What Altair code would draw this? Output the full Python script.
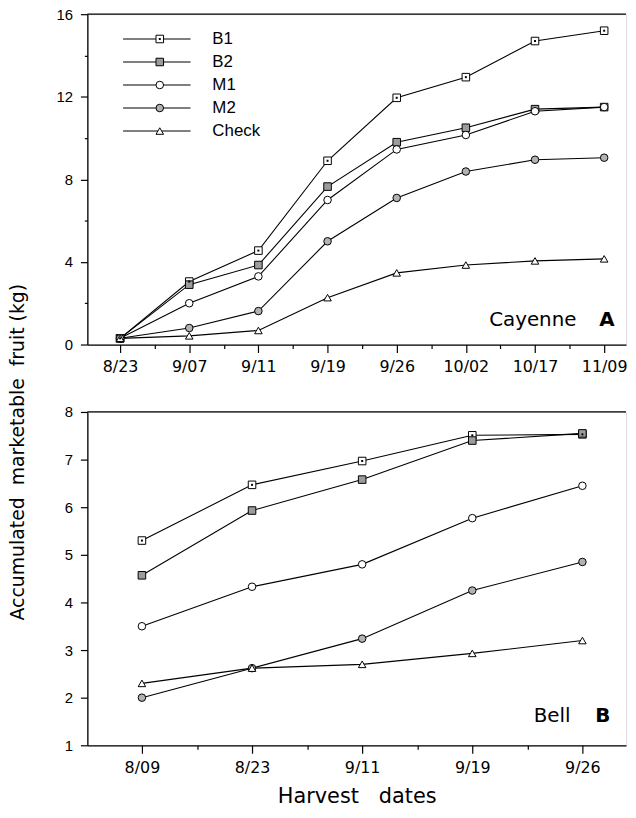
import json
import altair as alt
import pandas as pd

# ---------------- data ----------------
series = ["B1", "B2", "M1", "M2", "Check"]

dates_a = ["8/23", "9/07", "9/11", "9/19", "9/26", "10/02", "10/17", "11/09"]
b1_a = [0.3, 3.05, 4.55, 8.9, 11.95, 12.95, 14.7, 15.2]
b2_a = [0.3, 2.9, 3.85, 7.65, 9.8, 10.5, 11.4, 11.5]
m1_a = [0.3, 2.0, 3.3, 7.0, 9.45, 10.15, 11.3, 11.5]
m2_a = [0.3, 0.8, 1.62, 5.0, 7.1, 8.38, 8.95, 9.05]
ck_a = [0.3, 0.42, 0.68, 2.27, 3.47, 3.85, 4.05, 4.15]

dates_b = ["8/09", "8/23", "9/11", "9/19", "9/26"]
b1_b = [5.3, 6.47, 6.97, 7.51, 7.53]
b2_b = [4.57, 5.93, 6.58, 7.4, 7.55]
m1_b = [3.5, 4.33, 4.8, 5.77, 6.45]
m2_b = [2.0, 2.62, 3.24, 4.25, 4.85]
ck_b = [2.3, 2.62, 2.7, 2.93, 3.2]

# ---------------- styles ----------------
shapes = ["square", "square", "circle", "circle", "triangle-up"]
fills = ["white", "#9c9c9c", "white", "#b2b2b2", "white"]

W = 543
H1, H2 = 333, 336
AX_FONT = "Liberation Sans"
GEO_FONT = "DejaVu Sans"
NB = "\u00a0"


def long_df(dates, cols):
    rows = []
    for s, vals in zip(series, cols):
        for i, (d, v) in enumerate(zip(dates, vals)):
            rows.append({"idx": i, "date": d, "series": s, "value": v})
    return pd.DataFrame(rows)


df_a = long_df(dates_a, [b1_a, b2_a, m1_a, m2_a, ck_a])
df_b = long_df(dates_b, [b1_b, b2_b, m1_b, m2_b, ck_b])


def panel(df, dates, xdom, ydom, ymajor, H, lab1, lab2, lab1_x, lab2_x, lab_dy,
          show_xtitle, ytitle_opacity, legend=False):
    n = len(dates)
    xvals = [i * 0.5 for i in range(2 * n - 1)]
    X = alt.X(
        "idx:Q",
        scale=alt.Scale(domain=xdom, nice=False, zero=False),
        axis=alt.Axis(
            values=xvals,
            labelExpr=f"{json.dumps(dates)}[datum.value] || ''",
            tickSize={"condition": {"test": "datum.value % 1 !== 0", "value": 4}, "value": 8},
            tickColor="black", domainColor="black", tickWidth=1.2, domainWidth=1.3,
            labelFont=GEO_FONT, labelFontSize=16, labelColor="black", labelPadding=6,
            labelOverlap=False, grid=False,
            title=("Harvest" + NB * 3 + "dates") if show_xtitle else None,
            titleFont=GEO_FONT, titleFontSize=21, titleFontWeight="normal",
            titleColor="black", titlePadding=11,
        ),
    )
    ystep = 0.5 if ymajor == 1 else 2
    yvals = []
    v = ydom[0]
    while v <= ydom[1] + 1e-9:
        yvals.append(round(v, 2))
        v += ystep
    Y = alt.Y(
        "value:Q",
        scale=alt.Scale(domain=ydom, nice=False, zero=False),
        axis=alt.Axis(
            values=yvals,
            labelExpr=f"datum.value % {ymajor} === 0 ? datum.label : ''",
            tickSize={"condition": {"test": f"datum.value % {ymajor} !== 0", "value": 3}, "value": 7},
            tickColor="black", domainColor="black", tickWidth=1.2, domainWidth=1.3,
            labelFont=AX_FONT, labelFontSize=15, labelColor="black", labelPadding=8,
            labelOverlap=False, grid=False,
            title="Accumulated" + NB * 2 + "marketable" + NB * 2 + "fruit" + NB + "(kg)",
            titleFont=GEO_FONT, titleFontSize=19, titleFontWeight="normal",
            titleColor="black", titleOpacity=ytitle_opacity, titlePadding=30,
            titleY=H + 108 if ytitle_opacity > 0 else H / 2,
            minExtent=30, maxExtent=30,
        ),
    )
    base = alt.Chart(df)
    line = base.mark_line(color="black", strokeWidth=1.1).encode(x=X, y=Y, detail="series:N")
    pts = base.mark_point(filled=True, stroke="black", strokeWidth=1, size=58, opacity=1).encode(
        x=X, y=Y,
        shape=alt.Shape("series:N", scale=alt.Scale(domain=series, range=shapes), legend=None),
        fill=alt.Fill("series:N", scale=alt.Scale(domain=series, range=fills), legend=None),
    )
    dots = base.transform_filter(alt.datum.series == "B1").mark_point(
        filled=True, color="black", size=4, shape="square", opacity=1
    ).encode(x=X, y=Y)
    one = alt.Chart(pd.DataFrame({"top": [ydom[1]]}))
    top_rule = one.mark_rule(color="black", strokeWidth=1.3).encode(
        y="top:Q", x=alt.value(0), x2=alt.value(W)
    )
    t1 = one.mark_text(text=lab1, font=GEO_FONT, fontSize=20, align="right",
                       baseline="middle", color="black").encode(
        x=alt.value(lab1_x), y=alt.value(H - lab_dy))
    t2 = one.mark_text(text=lab2, font=GEO_FONT, fontSize=20, fontWeight="bold",
                       align="left", baseline="middle", color="black").encode(
        x=alt.value(lab2_x), y=alt.value(H - lab_dy))
    layers = [line, pts, dots, top_rule, t1, t2]
    if legend:
        for i, s in enumerate(series):
            yy = 25 + 23.2 * i
            layers.append(one.mark_rule(color="black", strokeWidth=1.1).encode(
                x=alt.value(36), x2=alt.value(104), y=alt.value(yy)))
            layers.append(one.mark_point(filled=True, stroke="black", strokeWidth=1, size=58,
                                         opacity=1, shape=shapes[i], fill=fills[i]).encode(
                x=alt.value(73), y=alt.value(yy)))
            if s == "B1":
                layers.append(one.mark_point(filled=True, color="black", size=4,
                                             shape="square", opacity=1).encode(
                    x=alt.value(73), y=alt.value(yy)))
            layers.append(one.mark_text(text=s, font=AX_FONT, fontSize=17, align="left",
                                        baseline="middle", color="black").encode(
                x=alt.value(126), y=alt.value(yy)))
    return alt.layer(*layers).properties(width=W, height=H)


top = panel(df_a, dates_a, [-0.4734, 7.316], [0, 16], 4, H1, "Cayenne", "A", 493, 516, 25,
            False, 1, legend=True)
bottom = panel(df_b, dates_b, [-0.4955, 4.396], [1, 8], 1, H2, "Bell", "B", 487, 512, 29,
               True, 0)

chart = alt.vconcat(top, bottom, spacing=68, bounds="flush").properties(
    padding={"left": 0, "top": -5, "right": 0, "bottom": 0}
).configure_view(stroke=None).configure(background="white")

chart.save("out.html", embed_options={"renderer": "svg", "actions": False})
